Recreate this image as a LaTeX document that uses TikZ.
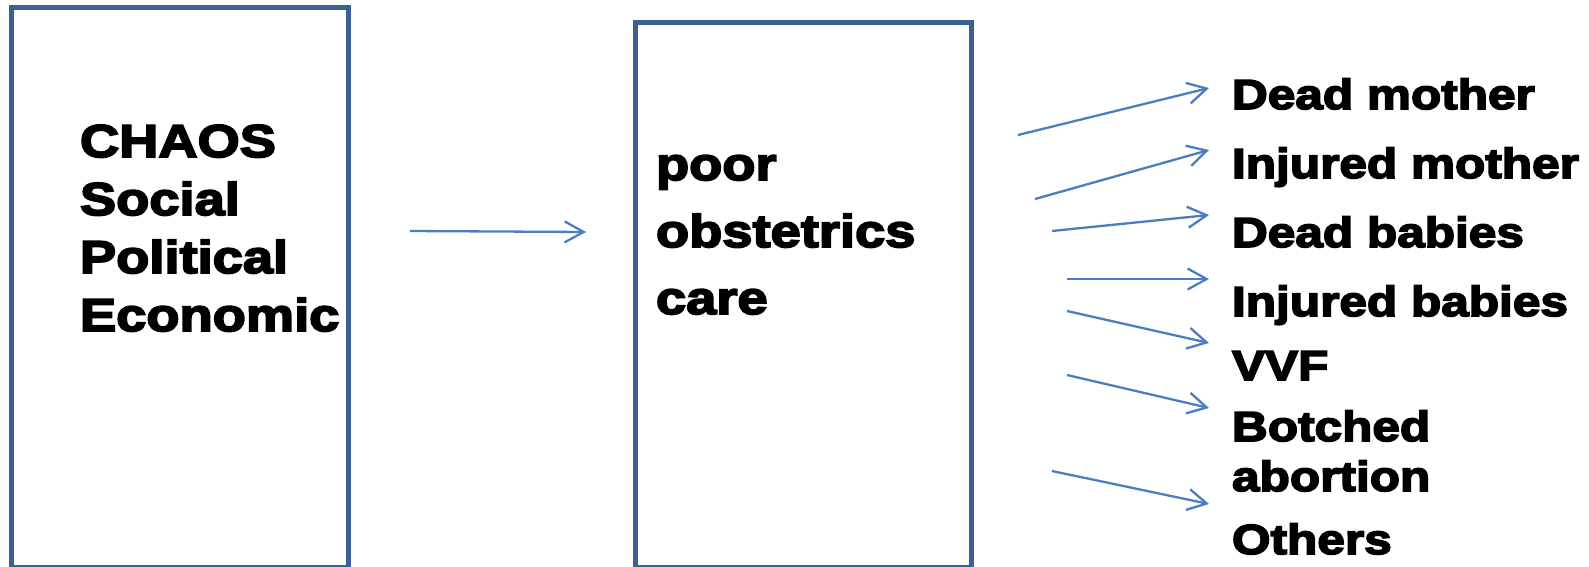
\documentclass[tikz,border=0pt]{standalone}
\usepackage{fontspec}
\newfontfamily\heavy[FakeStretch=1.18,FakeBold=4]{Liberation Sans}
\usetikzlibrary{arrows.meta}
\definecolor{boxblue}{HTML}{3B6192}
\definecolor{arrblue}{HTML}{4A7EBF}
\begin{document}
\begin{tikzpicture}[x=1pt,y=-1pt,
  framebox/.style={draw=boxblue,line width=5pt,outer sep=0pt,inner sep=0pt,anchor=north west},
  lbl/.style={anchor=base west,inner sep=0pt,outer sep=0pt,align=left,
    font=\heavy\bfseries\fontsize{42}{59}\selectfont},
  biglbl/.style={lbl,font=\heavy\bfseries\fontsize{46}{58}\selectfont},
  conn/.style={draw=arrblue,line width=2.3pt,-{Straight Barb[length=19pt,width=21pt]}}]
\useasboundingbox (0,0) rectangle (1589,566);
% boxes
\node[framebox,minimum width=337pt,minimum height=560pt] (cause) at (11,7) {};
\node[framebox,minimum width=336pt,minimum height=545pt] (care) at (635,22) {};
% box texts (anchor base = baseline of last line)
\node[biglbl] (chaostext) at (80,331) {CHAOS\\Social\\Political\\Economic};
\node[biglbl,font=\heavy\bfseries\fontsize{46}{67}\selectfont] (caretext) at (656,314) {poor\\obstetrics\\care};
% outcome texts
\node[lbl] (o1) at (1232,109) {Dead mother};
\node[lbl] (o2) at (1232,178) {Injured mother};
\node[lbl] (o3) at (1232,247) {Dead babies};
\node[lbl] (o4) at (1232,316) {Injured babies};
\node[lbl] (o5) at (1232,380) {VVF};
\node[lbl,font=\heavy\bfseries\fontsize{42}{50}\selectfont] (o6) at (1232,491) {Botched\\abortion};
\node[lbl] (o7) at (1232,554) {Others};
% connector ends
\coordinate (m0s) at (410,231);  \coordinate (m0e) at (586,232);
\coordinate (a1s) at (1018,135); \coordinate (a1e) at (1209,88);
\coordinate (a2s) at (1035,199); \coordinate (a2e) at (1209,150);
\coordinate (a3s) at (1052,231); \coordinate (a3e) at (1209,215);
\coordinate (a4s) at (1067,279); \coordinate (a4e) at (1209,279);
\coordinate (a5s) at (1067,311); \coordinate (a5e) at (1209,343);
\coordinate (a6s) at (1067,375); \coordinate (a6e) at (1209,408);
\coordinate (a7s) at (1052,471); \coordinate (a7e) at (1209,504);
\draw[conn] (m0s) -- (m0e);
\draw[conn] (a1s) -- (a1e);
\draw[conn] (a2s) -- (a2e);
\draw[conn] (a3s) -- (a3e);
\draw[conn] (a4s) -- (a4e);
\draw[conn] (a5s) -- (a5e);
\draw[conn] (a6s) -- (a6e);
\draw[conn] (a7s) -- (a7e);
\end{tikzpicture}
\end{document}
